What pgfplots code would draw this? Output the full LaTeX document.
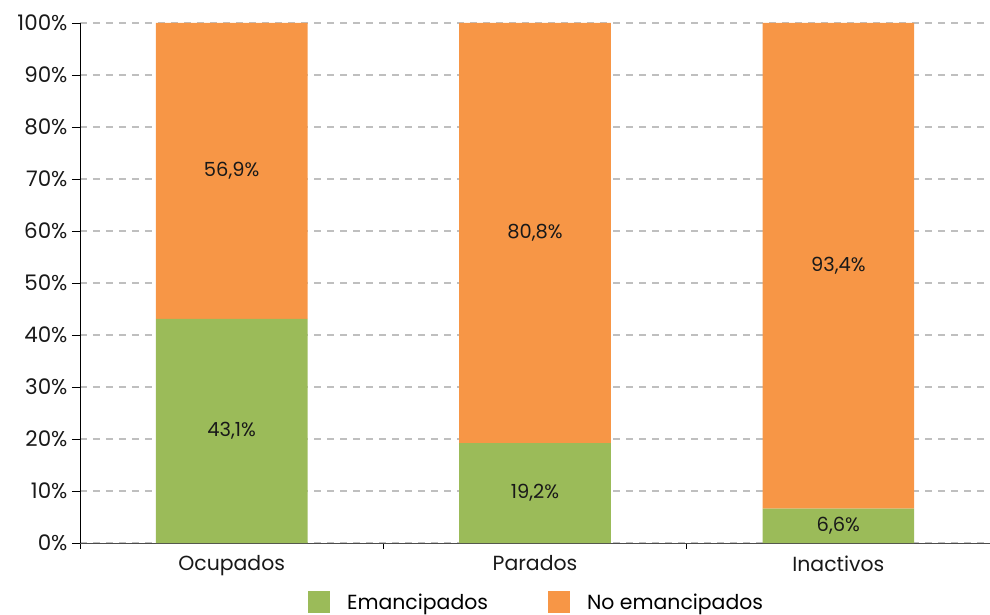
\documentclass[border=0pt]{standalone}
\usepackage{fontspec}
\setmainfont{Poppins}
\usepackage{pgfplots}
\pgfplotsset{compat=1.18}
\definecolor{verde}{HTML}{9BBB59}
\definecolor{naranja}{HTML}{F79646}
\definecolor{rejilla}{HTML}{BFBFBF}

\pgfplotsset{
  legbox/.style={legend image code/.code={\fill[##1,draw=none] (0bp,-11bp) rectangle (22bp,11bp);}},
  marco/.style={scale only axis, width=910bp, height=520bp,
    at={(0,0)}, anchor=south west,
    xmin=-0.5, xmax=2.5, ymin=0, ymax=100}
}

% etiquetas: x, centro del tramo, texto
\pgfplotstableread{
x   y      lab
0   21.55  43,1
0   71.55  56,9
1   9.6    19,2
1   59.6   80,8
2   3.3    6,6
2   53.3   93,4
}\etiquetas

\begin{document}
\begin{tikzpicture}
\begin{axis}[
  marco,
  ybar stacked, bar width=0.5,
  axis x line*=bottom, axis y line*=left,
  x axis line style={draw=black!70, line width=0.9pt},
  y axis line style={draw=black, line width=0.9pt},
  xtick={0,1,2}, xticklabels={Ocupados,Parados,Inactivos},
  minor xtick={-0.5,0.5,1.5,2.5},
  major x tick style={draw=none},
  minor x tick style={draw=black, line width=0.9pt},
  y tick style={draw=black, line width=0.9pt},
  tick align=outside, major tick length=8bp, minor tick length=6bp,
  ytick={0,10,...,100},
  yticklabel={\pgfmathprintnumber{\tick}\%},
  /pgf/number format/assume math mode=true,
  ymajorgrids,
  grid style={rejilla, line width=1.2pt, dash pattern=on 7bp off 6bp},
  tick label style={font=\fontsize{20.5}{22}\selectfont, text=black!90},
  yticklabel style={xshift=-1bp, font=\fontsize{21.5}{23}\selectfont},
  xticklabel style={yshift=-1bp},
  legend columns=2,
  legend style={at={(0.51,-0.092)}, anchor=north, draw=none, fill=none,
    inner sep=0pt, font=\fontsize{20.5}{22}\selectfont,
    /tikz/every even column/.append style={column sep=43bp},
    nodes={inner xsep=17bp, inner ysep=0pt}},
]
\addplot[fill=verde, draw=none, legbox] coordinates {(0,43.1) (1,19.2) (2,6.6)};
\addlegendentry{Emancipados}
\addplot[fill=naranja, draw=none, legbox] coordinates {(0,56.9) (1,80.8) (2,93.4)};
\addlegendentry{No emancipados}
\end{axis}
\begin{axis}[
  marco, hide axis,
  nodes near coords={\pgfplotspointmeta\%},
  every node near coord/.append style={anchor=center,
    font=\fontsize{19.5}{21}\selectfont, text=black!90},
]
\addplot[only marks, mark=none, point meta=explicit symbolic]
  table[x=x, y=y, meta=lab] {\etiquetas};
\end{axis}
\pgfresetboundingbox
\useasboundingbox (-80bp,-72bp) rectangle (910bp,543bp);
\end{tikzpicture}
\end{document}
